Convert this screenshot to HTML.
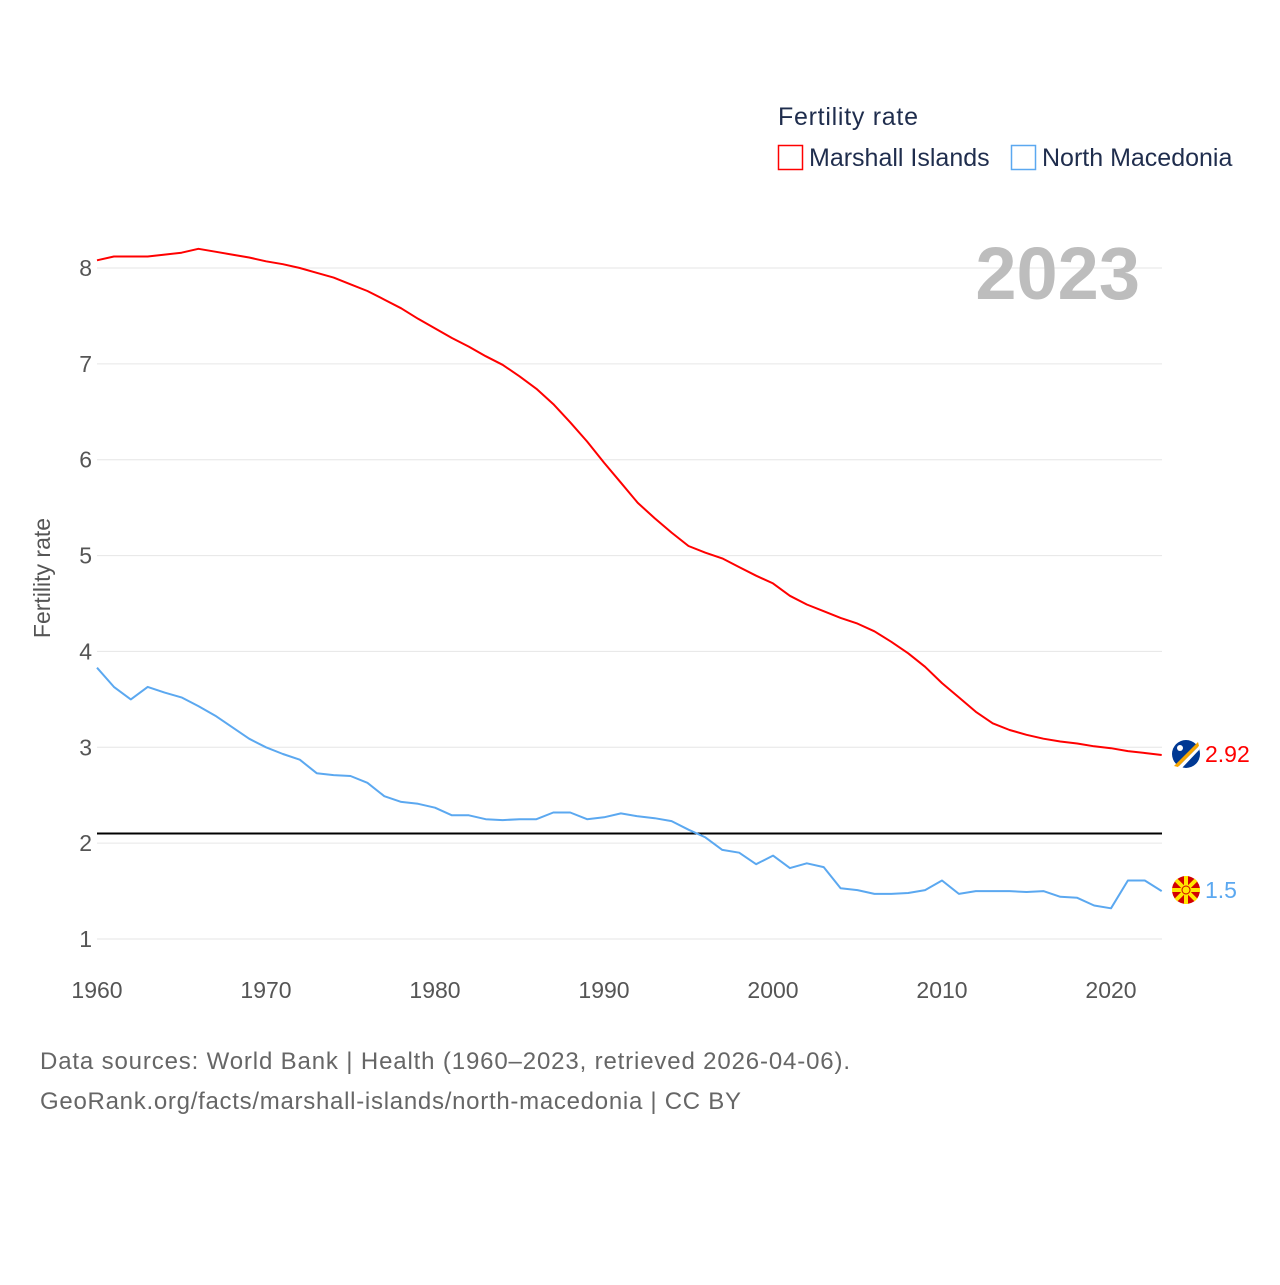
<!DOCTYPE html>
<html><head><meta charset="utf-8">
<style>
html,body{margin:0;padding:0;background:#fff;}
body{width:1280px;height:1280px;position:relative;overflow:hidden;font-family:"Liberation Sans",sans-serif;}
svg text{font-family:"Liberation Sans",sans-serif;}
</style></head>
<body>
<svg id="chart" width="1280" height="1280" xmlns="http://www.w3.org/2000/svg">
  <g id="grid"></g>
  <text x="1140" y="299" text-anchor="end" font-size="74" font-weight="bold" fill="#bdbdbd">2023</text>
  <text transform="translate(50,578) rotate(-90)" text-anchor="middle" font-size="23" fill="#555">Fertility rate</text>
  <g id="series"></g>
  <g>
    <text x="778" y="125" font-size="25" fill="#1f2d4d" textLength="140">Fertility rate</text>
    <rect x="778.5" y="145.5" width="24" height="24" fill="none" stroke="#ff0000" stroke-width="1.5"/>
    <text x="809" y="166" font-size="25" fill="#1f2d4d">Marshall Islands</text>
    <rect x="1011.5" y="145.5" width="24" height="24" fill="none" stroke="#5ba8f0" stroke-width="1.5"/>
    <text x="1042" y="166" font-size="25" fill="#1f2d4d">North Macedonia</text>
  </g>
  <g>
    <circle cx="1186" cy="754" r="14" fill="#003893"/>
    <path d="M1174 766 L1198 742 L1199 746 L1178 767 Z" fill="#f7a600"/>
    <path d="M1178 767 L1199 746 L1199 750 L1182 768 Z" fill="#fff"/>
    <circle cx="1180" cy="748" r="3" fill="#fff"/>
  </g>
  <text x="1205" y="762" font-size="23" fill="#ff0000">2.92</text>
  <g>
    <circle cx="1186" cy="890" r="14" fill="#d20000"/>
    <g stroke="#ffe600" stroke-width="4">
      <line x1="1172" y1="890" x2="1200" y2="890"/><line x1="1186" y1="876" x2="1186" y2="904"/>
      <line x1="1176" y1="880" x2="1196" y2="900"/><line x1="1196" y1="880" x2="1176" y2="900"/>
    </g>
    <circle cx="1186" cy="890" r="4" fill="#ffe600" stroke="#d20000" stroke-width="1"/>
  </g>
  <text x="1205" y="898" font-size="23" fill="#5ba8f0">1.5</text>
  <text x="40" y="1069" font-size="24" fill="#666" textLength="810">Data sources: World Bank | Health (1960–2023, retrieved 2026-04-06).</text>
  <text x="40" y="1109" font-size="24" fill="#666" textLength="701">GeoRank.org/facts/marshall-islands/north-macedonia | CC BY</text>
</svg>
<script>
const years = [];
for (let y = 1960; y <= 2023; y++) years.push(y);
const yTicks = [1,2,3,4,5,6,7,8];
const xTicks = [1960,1970,1980,1990,2000,2010,2020];
const marshall = [8.08,8.12,8.12,8.12,8.14,8.16,8.20,8.17,8.14,8.11,8.07,8.04,8.00,7.95,7.90,7.83,7.76,7.67,7.58,7.47,7.37,7.27,7.18,7.08,6.99,6.87,6.74,6.58,6.39,6.19,5.97,5.76,5.55,5.39,5.24,5.10,5.03,4.97,4.88,4.79,4.71,4.58,4.49,4.42,4.35,4.29,4.21,4.10,3.98,3.84,3.67,3.52,3.37,3.25,3.18,3.13,3.09,3.06,3.04,3.01,2.99,2.96,2.94,2.92];
const macedonia = [3.83,3.63,3.50,3.63,3.57,3.52,3.43,3.33,3.21,3.09,3.00,2.93,2.87,2.73,2.71,2.70,2.63,2.49,2.43,2.41,2.37,2.29,2.29,2.25,2.24,2.25,2.25,2.32,2.32,2.25,2.27,2.31,2.28,2.26,2.23,2.14,2.06,1.93,1.90,1.78,1.87,1.74,1.79,1.75,1.53,1.51,1.47,1.47,1.48,1.51,1.61,1.47,1.50,1.50,1.50,1.49,1.50,1.44,1.43,1.35,1.32,1.61,1.61,1.50];
const replacementRate = [2.1];

const NS = "http://www.w3.org/2000/svg";
function xs(yr){ return 97 + (yr - 1960) * (1014/60); }
function ys(v){ return 939 - (v - 1) * (671/7); }
function mk(tag, attrs, parent){ const e=document.createElementNS(NS,tag); for(const k in attrs) e.setAttribute(k,attrs[k]); parent.appendChild(e); return e; }

const grid = document.getElementById('grid');
yTicks.forEach(t => {
  const l = mk('line',{x1:97,x2:1162,y1:ys(t),y2:ys(t),stroke:'#e6e6e6','stroke-width':1},grid);
  
  
  const tx = mk('text',{x:92,y:ys(t)+8,'text-anchor':'end','font-size':23,fill:'#555'},grid);
  tx.textContent = t;
  
  
});
xTicks.forEach(t => {
  const tx = mk('text',{x:xs(t),y:998,'text-anchor':'middle','font-size':23,fill:'#555'},grid);
  tx.textContent = t;
  
  
});
const ser = document.getElementById('series');
const ref = mk('line',{x1:97,x2:1162,y1:ys(replacementRate[0]),y2:ys(replacementRate[0]),stroke:'#000','stroke-width':2},ser);


function line(vals,color,name){
  const d = vals.map((v,i)=>(i?'L':'M')+xs(years[i]).toFixed(1)+' '+ys(v).toFixed(1)).join(' ');
  const p = mk('path',{d:d,fill:'none',stroke:color,'stroke-width':2,'stroke-linejoin':'round'},ser);
  
  
}
line(macedonia,'#5ba8f0','line-north-macedonia');
line(marshall,'#ff0000','line-marshall-islands');
</script>
</body></html>
